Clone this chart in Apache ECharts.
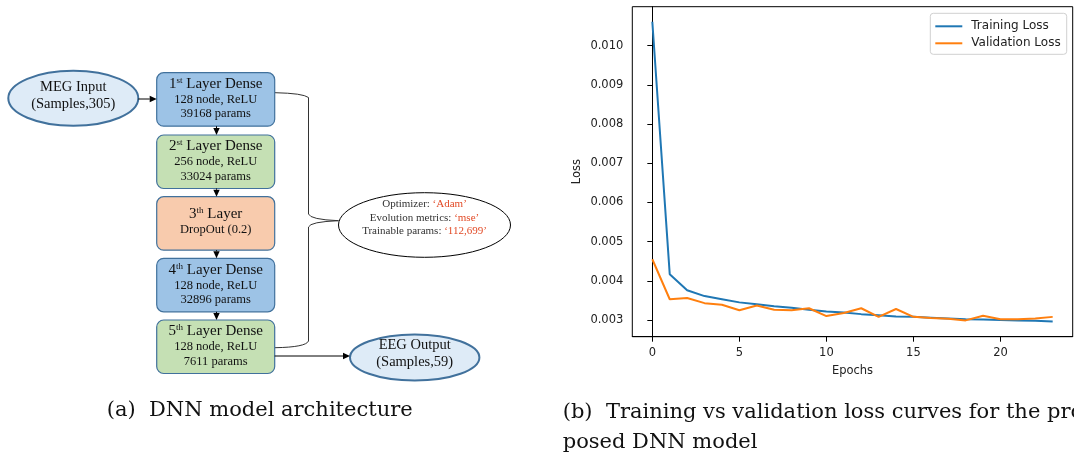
<!DOCTYPE html>
<html>
<head>
<meta charset="utf-8">
<script src="https://cdn.jsdelivr.net/npm/echarts@6/dist/echarts.min.js"></script>
<style>
html,body{margin:0;padding:0;background:#fff;}
#main{width:1074px;height:458px;}
</style>
</head>
<body>
<div id="main"></div>
<script>
// ---------- data ----------
const epochs = [0,1,2,3,4,5,6,7,8,9,10,11,12,13,14,15,16,17,18,19,20,21,22,23];
const trainingLoss = [0.01061,0.00417,0.00376,0.00361,0.00353,0.00345,0.00340,0.00335,0.00331,0.00326,0.00322,0.00319,0.00315,0.00312,0.00309,0.00308,0.00306,0.00304,0.00302,0.00301,0.00300,0.00299,0.00298,0.00296];
const validationLoss = [0.00455,0.00353,0.00356,0.00343,0.00339,0.00325,0.00337,0.00326,0.00325,0.00330,0.00310,0.00318,0.00330,0.00308,0.00328,0.00308,0.00305,0.00303,0.00299,0.00311,0.00302,0.00302,0.00304,0.00308];
const xTicks = [0,5,10,15,20];
const yTicks = [0.003,0.004,0.005,0.006,0.007,0.008,0.009,0.010];
const seriesNames = ['Training Loss','Validation Loss'];

// diagram texts
const inputLines = ['MEG Input','(Samples,305)'];
const outputLines = ['EEG Output','(Samples,59)'];
const layers = [
  {num:'1', sup:'st', title:' Layer Dense', lines:['128 node, ReLU','39168 params'], kind:'blue'},
  {num:'2', sup:'st', title:' Layer Dense', lines:['256 node, ReLU','33024 params'], kind:'green'},
  {num:'3', sup:'th', title:' Layer', lines:['DropOut (0.2)'], kind:'orange'},
  {num:'4', sup:'th', title:' Layer Dense', lines:['128 node, ReLU','32896 params'], kind:'blue'},
  {num:'5', sup:'th', title:' Layer Dense', lines:['128 node, ReLU','7611 params'], kind:'green'}
];
const infoKeys = ['Optimizer: ','Evolution metrics: ','Trainable params: '];
const infoVals = ['\u2018Adam\u2019','\u2018mse\u2019','\u2018112,699\u2019'];
const captionA = '(a)  DNN model architecture';
const captionB1 = '(b)  Training vs validation loss curves for the pro-';
const captionB2 = 'posed DNN model';

// ---------- diagram graphics ----------
const SERIF = 'Liberation Serif';
const fills = {blue:'#9DC3E6', green:'#C5E0B4', orange:'#F8CBAD'};
const boxStroke = '#41719C';
const g = [];

function txt(x, y, text, size, extra) {
  return Object.assign({type:'text', x:x, y:y, z:10,
    style:{text:text, fontFamily:SERIF, fontSize:size, fill:'#111', align:'center', verticalAlign:'middle'}}, extra||{});
}
function arrow(x1, y1, x2, y2) {
  const dx = x2-x1, dy = y2-y1, L = Math.sqrt(dx*dx+dy*dy);
  const ux = dx/L, uy = dy/L, hl = 7, hw = 3.2;
  const bx = x2-ux*hl, by = y2-uy*hl;
  g.push({type:'line', z:5, shape:{x1:x1,y1:y1,x2:bx,y2:by}, style:{stroke:'#000', lineWidth:1}});
  g.push({type:'polygon', z:5, shape:{points:[[x2,y2],[bx-uy*hw,by+ux*hw],[bx+uy*hw,by-ux*hw]]}, style:{fill:'#000'}});
}
function curve(x1, y1, cx, cy, x2, y2) {
  g.push({type:'bezierCurve', z:3, shape:{x1:x1,y1:y1,cpx1:cx,cpy1:cy,x2:x2,y2:y2}, style:{fill:null, stroke:'#333', lineWidth:1}});
}
function seg(x1, y1, x2, y2) {
  g.push({type:'line', z:3, shape:{x1:x1,y1:y1,x2:x2,y2:y2}, style:{stroke:'#333', lineWidth:1}});
}

// input ellipse
g.push({type:'ellipse', z:4, shape:{cx:73.3, cy:98.3, rx:65, ry:27.5}, style:{fill:'#DEEBF7', stroke:boxStroke, lineWidth:2}});
g.push(txt(73.3, 87, inputLines[0], 14.5));
g.push(txt(73.3, 104.5, inputLines[1], 14.5));
arrow(138.3, 99, 156.7, 99);

// layer boxes
const boxX = 156.7, boxW = 118, boxH = 53.5;
const boxTops = [72.7, 135, 196.7, 258.3, 320];
layers.forEach(function(l, i){
  const top = boxTops[i];
  g.push({type:'rect', z:4, shape:{x:boxX, y:top, width:boxW, height:boxH, r:7},
    style:{fill:fills[l.kind], stroke:boxStroke, lineWidth:1.2}});
  const cx = boxX + boxW/2;
  const titleY = l.lines.length === 2 ? top+11.5 : top+17;
  g.push({type:'text', x:cx, y:titleY, z:10, style:{
    text:'{b|'+l.num+'}{s|'+l.sup+'}{b|'+l.title+'}', align:'center', verticalAlign:'middle',
    rich:{b:{fontFamily:SERIF, fontSize:15, fill:'#111', lineHeight:16},
          s:{fontFamily:SERIF, fontSize:9, fill:'#111', verticalAlign:'top', lineHeight:16}}}});
  if (l.lines.length === 2) {
    g.push(txt(cx, top+27, l.lines[0], 12.5));
    g.push(txt(cx, top+41.5, l.lines[1], 12.5));
  } else {
    g.push(txt(cx, top+33, l.lines[0], 12.5));
  }
  if (i < layers.length-1) arrow(216.5, top+boxH, 216.5, boxTops[i+1]);
});

// brace
curve(275, 92.7, 303, 93.3, 308.5, 97.5);
seg(308.5, 97.5, 308.5, 214);
curve(308.5, 214, 310, 219.5, 338.5, 220.7);
curve(338.5, 220.7, 310, 221.8, 308.5, 227);
seg(308.5, 227, 308.5, 341);
curve(308.5, 341, 306, 347.2, 275, 347.7);

// info ellipse
g.push({type:'ellipse', z:4, shape:{cx:424.5, cy:225, rx:86, ry:32.3}, style:{fill:'#fff', stroke:'#000', lineWidth:1}});
g.push({type:'text', x:424.5, y:218, z:10, style:{
  text: infoKeys.map(function(k,i){return '{k|'+k+'}{v|'+infoVals[i]+'}';}).join('\n'),
  align:'center', verticalAlign:'middle',
  rich:{k:{fontFamily:SERIF, fontSize:11, fill:'#333', lineHeight:13.4},
        v:{fontFamily:SERIF, fontSize:11, fill:'#E24A26', lineHeight:13.4}}}});

// output
arrow(274.7, 356, 350, 356);
g.push({type:'ellipse', z:4, shape:{cx:414.7, cy:357.5, rx:64.7, ry:23}, style:{fill:'#DEEBF7', stroke:boxStroke, lineWidth:2}});
g.push(txt(414.7, 345.3, outputLines[0], 14.5));
g.push(txt(414.7, 362.5, outputLines[1], 14.5));

// captions
const CAP = {fontFamily:'DejaVu Serif', fontSize:21, fill:'#111', align:'left', verticalAlign:'middle'};
g.push({type:'text', x:106.7, y:411, style:Object.assign({text:captionA}, CAP)});
g.push({type:'text', x:562.7, y:413, style:Object.assign({text:captionB1}, CAP)});
g.push({type:'text', x:562.7, y:442.5, style:Object.assign({text:captionB2}, CAP)});

// ---------- chart ----------
const SANS = 'DejaVu Sans';
const chart = echarts.init(document.getElementById('main'), null, {renderer:'canvas'});
chart.setOption({
  animation:false,
  backgroundColor:'#fff',
  grid:{left:632.3, top:6.7, width:440.4, height:330, show:true, borderColor:'#000', borderWidth:1, backgroundColor:'transparent'},
  legend:{
    orient:'vertical', left:930.3, top:13.3, padding:[7,6,5,4], itemGap:5,
    itemWidth:27, itemHeight:14,
    itemStyle:{opacity:0},
    backgroundColor:'#fff', borderColor:'#d0d0d0', borderWidth:1, borderRadius:3,
    textStyle:{fontFamily:SANS, fontSize:12, color:'#222', padding:[0,0,0,4]},
    data:seriesNames
  },
  xAxis:{
    type:'value', min:-1.15, max:24.15,
    name:'Epochs', nameLocation:'middle', nameGap:28,
    nameTextStyle:{fontFamily:SANS, fontSize:11.5, color:'#222'},
    axisLine:{show:true, lineStyle:{color:'#000', width:1}},
    axisTick:{show:true, length:5, lineStyle:{color:'#000'}, customValues:xTicks},
    axisLabel:{fontFamily:SANS, fontSize:11.5, color:'#222', margin:10, customValues:xTicks},
    splitLine:{show:false}
  },
  yAxis:{
    type:'value', min:0.002574, max:0.010995,
    name:'Loss', nameLocation:'middle', nameGap:49, nameRotate:90,
    nameTextStyle:{fontFamily:SANS, fontSize:11.5, color:'#222'},
    axisLine:{show:true, lineStyle:{color:'#000', width:1}},
    axisTick:{show:true, length:5, lineStyle:{color:'#000'}, customValues:yTicks},
    axisLabel:{fontFamily:SANS, fontSize:11.5, color:'#222', margin:9, customValues:yTicks,
      formatter:function(v){return v.toFixed(3);}},
    splitLine:{show:false}
  },
  series:[
    {name:seriesNames[0], type:'line', symbol:'none', data:epochs.map(function(e,i){return [e, trainingLoss[i]];}),
     lineStyle:{color:'#1f77b4', width:2}, itemStyle:{color:'#1f77b4'}},
    {name:seriesNames[1], type:'line', symbol:'none', data:epochs.map(function(e,i){return [e, validationLoss[i]];}),
     lineStyle:{color:'#ff7f0e', width:2}, itemStyle:{color:'#ff7f0e'}}
  ],
  graphic:{elements:g}
});
</script>
</body>
</html>
